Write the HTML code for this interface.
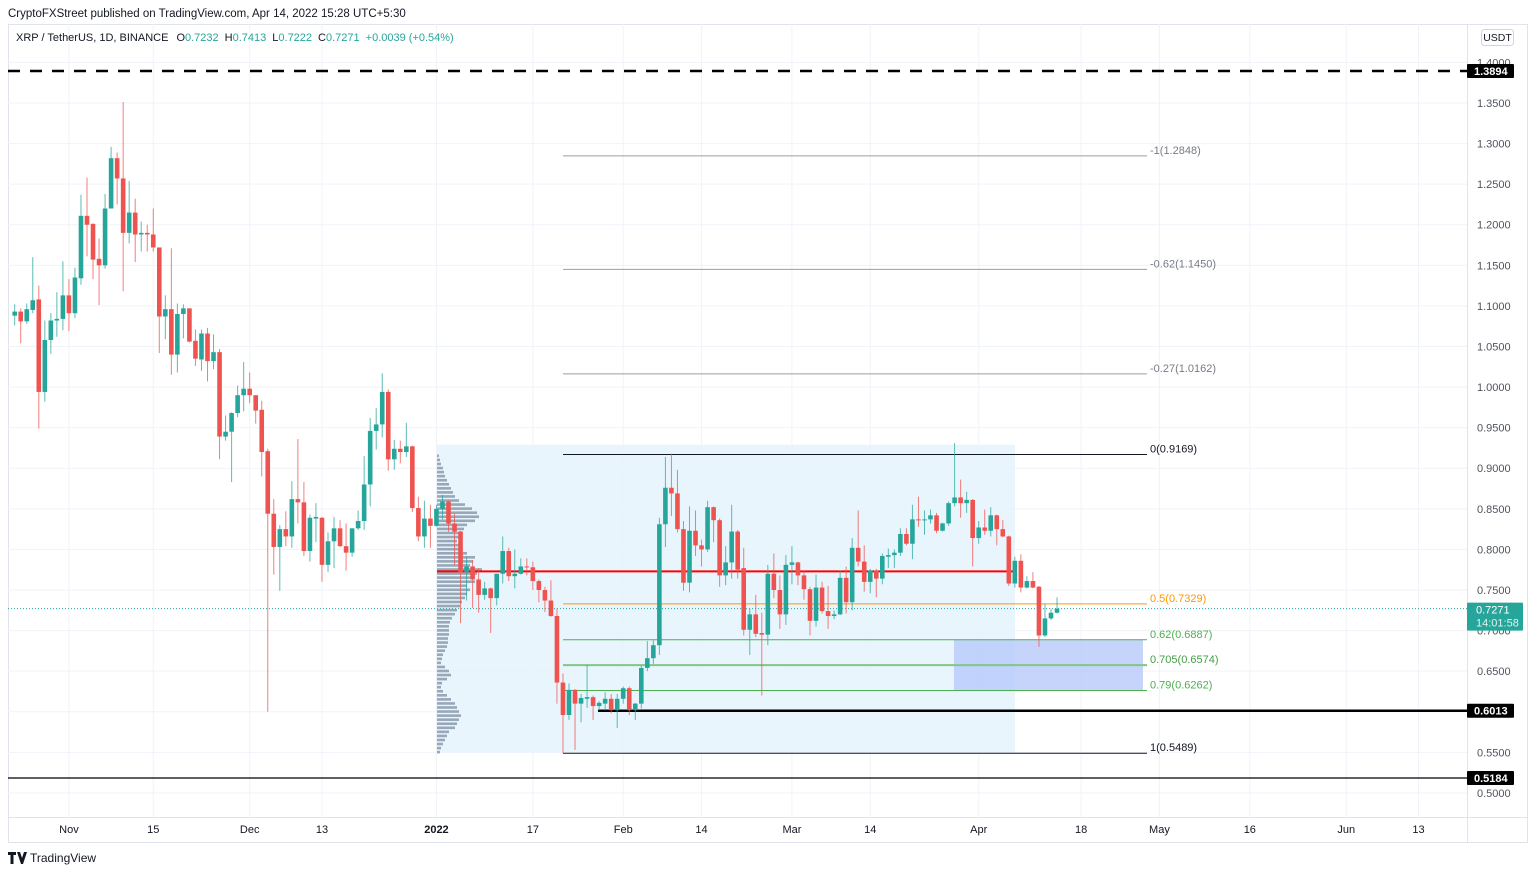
<!DOCTYPE html>
<html><head><meta charset="utf-8"><title>XRP / TetherUS 1D chart</title>
<style>
html,body{margin:0;padding:0;background:#fff;}
svg{display:block;font-family:"Liberation Sans",sans-serif;}
</style></head>
<body>
<svg id="chart" width="1536" height="873" viewBox="0 0 1536 873" xmlns="http://www.w3.org/2000/svg">
<rect x="0" y="0" width="1536" height="873" fill="#ffffff"/>
<text x="8" y="17" font-size="11.5" fill="#131722">CryptoFXStreet published on TradingView.com, Apr 14, 2022 15:28 UTC+5:30</text>
<g id="frame"></g>
<g id="grid"></g>
<g id="zones"></g>
<g id="vprofile"></g>
<g id="levels"></g>
<g id="candles"></g>
<g id="axes"></g>
<text x="16" y="41" font-size="11" fill="#131722">XRP / TetherUS, 1D, BINANCE<tspan dx="8">O</tspan><tspan fill="#26a69a">0.7232</tspan><tspan dx="6">H</tspan><tspan fill="#26a69a">0.7413</tspan><tspan dx="6">L</tspan><tspan fill="#26a69a">0.7222</tspan><tspan dx="6">C</tspan><tspan fill="#26a69a">0.7271</tspan><tspan dx="6" fill="#26a69a">+0.0039 (+0.54%)</tspan></text>
<g>
<path d="M8 852 h8 v3 h-2.5 v9 h-3 v-9 h-2.5 z M17 852 h3 l2 6 l2 -6 h3 l-4 12 h-2 z" fill="#131722"/>
<text x="30" y="862" font-size="12" fill="#131722">TradingView</text>
</g>
</svg>
<script>
const opens=[1.088,1.093,1.081,1.095,1.108,0.994,1.058,1.082,1.084,1.113,
1.091,1.134,1.211,1.201,1.158,1.150,1.220,1.282,1.257,1.190,
1.215,1.188,1.190,1.188,1.172,1.087,1.096,1.040,1.090,1.097,
1.057,1.034,1.066,1.032,1.043,0.939,0.945,0.968,0.990,0.998,
0.990,0.972,0.921,0.844,0.803,0.825,0.816,0.862,0.858,0.798,
0.838,0.839,0.781,0.810,0.826,0.804,0.796,0.826,0.835,0.880,
0.946,0.954,0.994,0.911,0.924,0.920,0.927,0.851,0.816,0.838,
0.829,0.850,0.859,0.832,0.822,0.772,0.779,0.763,0.744,0.752,
0.740,0.770,0.798,0.767,0.770,0.779,0.778,0.761,0.750,0.737,
0.718,0.636,0.596,0.627,0.610,0.616,0.618,0.607,0.610,0.616,
0.602,0.616,0.629,0.602,0.610,0.654,0.666,0.682,0.831,0.876,
0.869,0.825,0.759,0.823,0.805,0.800,0.852,0.836,0.768,0.784,
0.822,0.777,0.701,0.720,0.697,0.695,0.770,0.750,0.720,0.781,
0.784,0.768,0.751,0.712,0.753,0.724,0.718,0.720,0.765,0.735,
0.802,0.785,0.760,0.774,0.764,0.791,0.793,0.796,0.819,0.807,
0.837,0.836,0.837,0.842,0.823,0.832,0.857,0.864,0.857,0.861,
0.814,0.827,0.823,0.842,0.825,0.816,0.758,0.786,0.753,0.761,
0.754,0.694,0.715,0.722];
const highs=[1.102,1.097,1.103,1.160,1.125,1.082,1.091,1.117,1.155,1.133,
1.147,1.237,1.258,1.202,1.183,1.238,1.296,1.289,1.351,1.254,
1.232,1.204,1.200,1.220,1.172,1.113,1.171,1.103,1.102,1.097,
1.071,1.071,1.073,1.065,1.047,0.965,0.969,1.002,1.031,1.018,
0.990,0.983,0.924,0.862,0.830,0.847,0.884,0.936,0.883,0.843,
0.857,0.840,0.821,0.840,0.836,0.832,0.826,0.848,0.915,0.962,
0.974,1.017,0.997,0.935,0.934,0.956,0.928,0.865,0.860,0.855,
0.855,0.867,0.860,0.844,0.823,0.791,0.787,0.777,0.760,0.753,
0.770,0.816,0.802,0.800,0.789,0.789,0.785,0.763,0.754,0.762,
0.727,0.647,0.635,0.628,0.622,0.658,0.620,0.613,0.624,0.622,
0.622,0.631,0.631,0.611,0.657,0.687,0.688,0.839,0.914,0.918,
0.898,0.835,0.853,0.848,0.812,0.860,0.853,0.838,0.804,0.855,
0.824,0.802,0.727,0.744,0.722,0.781,0.795,0.768,0.793,0.804,
0.785,0.774,0.754,0.769,0.760,0.755,0.725,0.774,0.779,0.814,
0.848,0.805,0.776,0.776,0.795,0.801,0.800,0.826,0.826,0.855,
0.865,0.848,0.849,0.845,0.833,0.859,0.931,0.886,0.871,0.862,
0.835,0.849,0.852,0.843,0.836,0.817,0.791,0.794,0.767,0.772,
0.755,0.733,0.727,0.741];
const lows=[1.076,1.054,1.078,1.091,0.949,0.982,1.041,1.062,1.070,1.069,
1.085,1.126,1.161,1.133,1.101,1.146,1.220,1.225,1.118,1.177,
1.154,1.167,1.167,1.167,1.042,1.059,1.015,1.018,1.060,1.055,
1.026,1.020,1.007,1.022,0.911,0.934,0.883,0.963,0.970,0.980,
0.955,0.890,0.600,0.769,0.749,0.804,0.802,0.832,0.792,0.785,
0.809,0.760,0.772,0.777,0.803,0.774,0.791,0.824,0.824,0.853,
0.923,0.938,0.897,0.898,0.906,0.914,0.846,0.810,0.802,0.802,
0.828,0.837,0.822,0.781,0.709,0.737,0.728,0.722,0.738,0.697,
0.731,0.758,0.761,0.752,0.769,0.768,0.750,0.735,0.723,0.717,
0.610,0.549,0.590,0.553,0.587,0.605,0.590,0.602,0.602,0.598,
0.580,0.610,0.596,0.590,0.604,0.650,0.659,0.670,0.803,0.841,
0.821,0.749,0.747,0.792,0.779,0.797,0.809,0.754,0.756,0.764,
0.764,0.694,0.670,0.692,0.620,0.682,0.740,0.702,0.707,0.757,
0.756,0.738,0.694,0.705,0.721,0.702,0.714,0.719,0.721,0.725,
0.779,0.748,0.746,0.741,0.757,0.777,0.777,0.792,0.805,0.788,
0.828,0.818,0.832,0.820,0.822,0.829,0.853,0.839,0.845,0.779,
0.807,0.818,0.816,0.805,0.815,0.755,0.753,0.747,0.752,0.752,
0.680,0.692,0.713,0.721];
const closes=[1.093,1.081,1.096,1.107,0.994,1.058,1.082,1.084,1.113,1.091,
1.135,1.211,1.200,1.157,1.150,1.220,1.282,1.257,1.190,1.215,
1.188,1.190,1.188,1.172,1.087,1.096,1.040,1.090,1.097,1.056,
1.035,1.066,1.032,1.043,0.939,0.945,0.968,0.990,0.998,0.990,
0.971,0.920,0.844,0.803,0.825,0.816,0.862,0.858,0.798,0.839,
0.840,0.781,0.810,0.826,0.804,0.796,0.826,0.835,0.880,0.946,
0.954,0.994,0.911,0.924,0.920,0.927,0.851,0.816,0.838,0.829,
0.850,0.859,0.832,0.822,0.772,0.779,0.763,0.744,0.752,0.740,
0.770,0.798,0.767,0.770,0.779,0.778,0.761,0.750,0.737,0.718,
0.636,0.596,0.627,0.610,0.617,0.618,0.607,0.611,0.616,0.602,
0.616,0.629,0.602,0.610,0.654,0.666,0.682,0.831,0.876,0.869,
0.825,0.759,0.823,0.805,0.800,0.852,0.836,0.768,0.784,0.822,
0.775,0.701,0.720,0.696,0.695,0.770,0.750,0.720,0.781,0.784,
0.768,0.751,0.712,0.753,0.724,0.718,0.720,0.765,0.735,0.802,
0.785,0.760,0.774,0.764,0.792,0.793,0.796,0.819,0.807,0.837,
0.836,0.837,0.842,0.823,0.832,0.857,0.864,0.857,0.861,0.814,
0.827,0.823,0.842,0.825,0.816,0.758,0.786,0.753,0.761,0.753,
0.694,0.715,0.722,0.727];
const priceTicks=[1.40,1.35,1.30,1.25,1.20,1.15,1.10,1.05,1.00,0.95,0.90,0.85,0.80,0.75,0.70,0.65,0.60,0.55,0.50];
const timeLabels=["Nov","15","Dec","13","2022","17","Feb","14","Mar","14","Apr","18","May","16","Jun","13"];
const timeDays=[9,23,39,51,70,86,101,114,129,142,160,177,190,205,221,233];
const fibRatios=["-1","-0.62","-0.27","0","0.5","0.62","0.705","0.79","1"];
const fibPrices=[1.2848,1.1450,1.0162,0.9169,0.7329,0.6887,0.6574,0.6262,0.5489];
const vpTop=0.915, vpStep=0.005;
const vpVolumes=[2,3,4,6,7,8,10,12,14,16,18,22,28,35,40,42,38,30,27,25,22,20,22,24,30,38,36,33,45,40,35,38,30,33,30,28,25,23,20,18,15,13,12,12,12,11,11,10,8,6,5,4,8,12,14,10,5,4,6,10,14,18,20,22,24,22,20,18,12,10,8,6,4,3];
const lastPrice=0.7271, resistance=0.773, support1=0.6013, support2=0.5184, prevHigh=1.3894;

const NS="http://www.w3.org/2000/svg";
const X0=8, X1=1467, Y0=24, Y1=817;
function y(p){return 71+(1.3894-p)*811.7;}
function x(i){return 14.7+i*6.025;}
function mk(parent,tag,attrs){const e=document.createElementNS(NS,tag);for(const k in attrs)e.setAttribute(k,attrs[k]);document.getElementById(parent).appendChild(e);return e;}

let f=mk('frame','rect',{x:8.5,y:24.5,width:1519,height:818,fill:'none',stroke:'#e0e3eb'});


mk('frame','line',{x1:X1+0.5,y1:24,x2:X1+0.5,y2:842,stroke:'#e0e3eb'});
mk('frame','line',{x1:8,y1:Y1+0.5,x2:1528,y2:Y1+0.5,stroke:'#e0e3eb'});

priceTicks.forEach(p=>{
  const yy=y(p);
  if(yy>Y0){const g=mk('grid','line',{x1:X0,y1:yy,x2:X1,y2:yy,stroke:'#f0f3fa'});
  
  }
  const t=mk('axes','text',{x:1477,y:yy+4,'font-size':11,fill:'#50535e'});
  t.textContent=p.toFixed(4);
  
  
});
timeLabels.forEach((lab,k)=>{
  const xx=x(timeDays[k]);
  const g=mk('grid','line',{x1:xx,y1:Y0,x2:xx,y2:Y1,stroke:'#f0f3fa'});
  
  
  const t=mk('axes','text',{x:xx,y:833,'font-size':11,fill:'#131722','text-anchor':'middle','font-weight':lab==='2022'?'bold':'normal'});
  t.textContent=lab;
  
  
});

let z=mk('zones','rect',{x:437,y:y(0.929),width:578,height:y(0.550)-y(0.929),fill:'#e3f2fd',opacity:0.8});


z=mk('zones','rect',{x:954,y:y(fibPrices[5]),width:189,height:y(fibPrices[7])-y(fibPrices[5]),fill:'#b3c6fb',opacity:0.75});



vpVolumes.forEach((v,k)=>{
  const p=vpTop-k*vpStep;
  const r=mk('vprofile','rect',{x:437,y:y(p)-1.5,width:v,height:2.6,fill:'#8a9aab',opacity:0.85});
  
  
});

let l=mk('levels','line',{x1:X0,y1:y(prevHigh),x2:X1,y2:y(prevHigh),stroke:'#000','stroke-width':2.5,'stroke-dasharray':'12,10'});


l=mk('levels','line',{x1:437,y1:y(resistance),x2:1015,y2:y(resistance),stroke:'#f00','stroke-width':2});


l=mk('levels','line',{x1:598,y1:y(support1),x2:X1,y2:y(support1),stroke:'#000','stroke-width':2.5});


l=mk('levels','line',{x1:X0,y1:y(support2),x2:X1,y2:y(support2),stroke:'#000','stroke-width':1.2});


l=mk('levels','line',{x1:X0,y1:y(lastPrice),x2:X1,y2:y(lastPrice),stroke:'#26a69a','stroke-width':1,'stroke-dasharray':'1,2'});



const fibLine=['#9e9e9e','#9e9e9e','#9e9e9e','#131722','#ff9800','#4caf50','#81c784','#4caf50','#131722'];
const fibText=['#787b86','#787b86','#787b86','#131722','#ff9800','#4caf50','#43a047','#4caf50','#131722'];
fibRatios.forEach((r,k)=>{
  const yy=y(fibPrices[k]);
  const ln=mk('levels','line',{x1:563,y1:yy,x2:1147,y2:yy,stroke:fibLine[k],'stroke-width':k===6?2:1});
  
  
  const t=mk('levels','text',{x:1150,y:yy-2,'font-size':11,fill:fibText[k]});
  t.textContent=r+'('+fibPrices[k].toFixed(4)+')';
  
  
});

opens.forEach((o,i)=>{
  const c=closes[i], up=c>=o, col=up?'#26a69a':'#ef5350', xx=x(i);
  const w=mk('candles','line',{x1:xx,y1:y(highs[i]),x2:xx,y2:y(lows[i]),stroke:col,'stroke-width':1,opacity:0.75});
  
  
  const t=y(Math.max(o,c)), b=y(Math.min(o,c));
  const r=mk('candles','rect',{x:xx-2.3,y:t,width:4.6,height:Math.max(1,b-t),fill:col});
  
  
});

function box(p,bg,txt,name,h){
  const yy=y(p);
  const r=mk('axes','rect',{x:1467,y:yy-7,width:47,height:h||14,fill:bg,rx:1});
  
  
  const t=mk('axes','text',{x:1474,y:yy+4,'font-size':11,fill:'#fff','font-weight':'bold'});
  t.textContent=txt;
  
  
}
box(prevHigh,'#000',prevHigh.toFixed(4),'previous-high');
box(support1,'#000',support1.toFixed(4),'support-1');
box(support2,'#000',support2.toFixed(4),'support-2');
const lp=y(lastPrice);
let r=mk('axes','rect',{x:1467,y:lp-6,width:56,height:28,fill:'#26a69a',rx:1});


let t=mk('axes','text',{x:1476,y:lp+5,'font-size':11,fill:'#fff'});
t.textContent=lastPrice.toFixed(4);


t=mk('axes','text',{x:1476,y:lp+18,'font-size':11,fill:'#e0f2f1'});
t.textContent='14:01:58';


r=mk('axes','rect',{x:1481.5,y:29.5,width:32,height:16,fill:'#fff',stroke:'#d1d4dc',rx:3});


t=mk('axes','text',{x:1497.5,y:41,'font-size':10.5,fill:'#131722','text-anchor':'middle'});
t.textContent='USDT';


</script>
</body></html>
